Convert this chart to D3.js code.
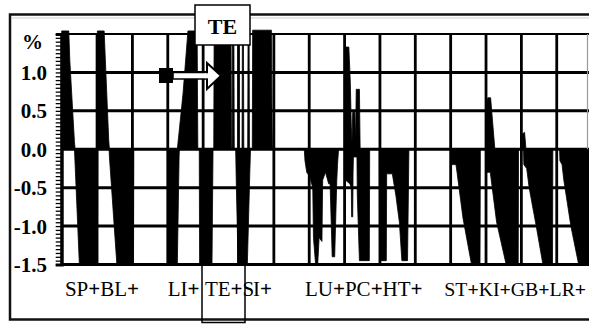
<!DOCTYPE html>
<html>
<head>
<meta charset="utf-8">
<script src="https://cdn.jsdelivr.net/npm/d3@7"></script>
<style>
  html, body { margin: 0; padding: 0; background: #fff; }
  svg { display: block; }
</style>
</head>
<body>
<svg id="chart" width="589" height="324"></svg>
<script>
// ---------------- data ----------------
// y-axis
const yTickValues = [1.0, 0.5, 0.0, -0.5, -1.0, -1.5];
const yTickLabels = ["1.0", "0.5", "0.0", "-0.5", "-1.0", "-1.5"];
const yGridValues = [1.5, 1.0, 0.5, 0.0, -0.5, -1.0, -1.5];
const unitLabel = "%";
// x-axis (recording position, 10 units per grid column)
const xGridValues = d3.range(0, 151, 10);
const groupLabels = ["SP+BL+", "LI+", "TE+S", "I+", "LU+PC+HT+", "ST+KI+GB+LR+"];
const groupStarts = [0.9, 30.0, 40.5, 54.1, 68.8, 108.2];
const highlight = "TE";

// positive envelope of the trace [position, %]
const upperTrace = [
  [0, 1.54], [2.0, 1.54], [2.3, 1.15], [3.6, 0.1], [3.8, 0],
  [10.0, 0], [10.1, 1.54], [12.0, 1.54], [13.3, 0.12], [13.5, 0],
  [32.7, 0], [34.3, 0.72], [35.7, 1.54], [38.3, 1.54], [38.5, 0],
  [43.0, 0], [43.1, 1.4], [47.9, 1.4], [48.0, 0],
  [48.2, 0], [48.3, 1.5], [48.7, 1.5], [48.8, 0],
  [51.0, 0], [51.1, 1.5], [51.4, 1.5], [51.5, 0],
  [52.6, 0], [52.7, 1.5], [53.0, 1.5], [53.1, 0],
  [53.9, 0], [54.0, 1.55], [59.3, 1.55], [59.5, 0.3], [59.6, 0],
  [80.0, 0], [80.1, 1.1], [80.4, 1.33], [81.2, 1.33], [81.6, 0.9], [81.9, 0.3], [82.1, 0.1],
  [82.3, 0.48], [82.9, 0.48], [83.1, 0.1], [83.3, 0.78], [84.2, 0.78], [84.4, 0],
  [120.1, 0], [120.2, 0.6], [120.5, 0.67], [121.3, 0.67], [121.7, 0.45], [122.0, 0.28], [122.5, 0],
  [130.2, 0], [130.3, 0.2], [130.9, 0.22], [131.3, 0],
  [150, 0]
];

// negative envelope of the trace [position, %]
const lowerTrace = [
  [0, 0], [3.6, 0], [3.7, -0.1], [5.0, -1.5], [10.1, -1.5], [10.2, 0],
  [13.4, 0], [13.5, -0.1], [15.6, -1.5], [20.3, -1.5], [20.4, 0],
  [29.9, 0], [30.0, -1.5], [32.7, -1.5], [33.2, -0.1], [33.3, 0],
  [38.9, 0], [39.0, -1.5], [42.5, -1.5], [42.8, 0],
  [49.2, 0], [49.4, -0.5], [49.9, -1.5], [52.5, -1.5], [53.2, -0.3], [53.4, 0],
  [68.6, 0], [68.8, -0.15], [69.3, -0.3], [70.1, -0.35], [71.0, -0.5], [71.2, -1.15], [71.8, -1.5],
  [72.4, -1.5], [72.8, -1.15], [73.6, -1.2], [73.8, -0.4], [74.6, -0.3], [75.5, -0.45], [75.9, -0.45],
  [76.5, -1.4], [77.2, -1.4], [77.8, -0.4], [78.0, -0.2], [78.3, 0],
  [80.1, 0], [80.2, -0.4], [81.5, -0.45], [81.9, -0.5], [82.0, -0.88], [82.3, -0.88], [82.4, -0.3],
  [82.5, -0.1], [83.5, -0.1], [83.6, -0.6], [84.2, -1.45], [87.0, -1.45], [87.1, 0],
  [89.8, 0], [89.9, -1.45], [91.8, -1.45], [91.9, -0.32], [93.5, -0.32], [94.5, -0.6], [95.5, -0.95],
  [96.2, -1.45], [97.8, -1.45], [98.2, 0],
  [110.3, 0], [110.4, -0.2], [111.5, -0.2], [111.8, -0.3], [113.5, -0.9], [115.9, -1.5], [118.3, -1.5], [118.4, 0],
  [120.2, 0], [120.3, -0.3], [121.2, -0.3], [123.0, -0.95], [125.7, -1.5], [129.1, -1.5], [129.2, 0],
  [130.6, 0], [130.7, -0.2], [131.5, -0.25], [132.2, -0.5], [134.2, -1.0], [136.1, -1.5], [138.8, -1.5], [138.9, 0],
  [140.8, 0], [140.9, -0.15], [141.5, -0.2], [142.0, -0.4], [144.0, -1.0], [146.2, -1.5], [150, -1.5]
];

// ---------------- drawing ----------------
const svg = d3.select("#chart");
const W = 589, H = 324;
svg.append("rect").attr("width", W).attr("height", H).attr("fill", "#fff");

const x = d3.scaleLinear().domain([0, 150]).range([61.7, 592.1]);
const y = d3.scaleLinear().domain([-1.5, 1.5]).range([264.5, 34]);

const serif = "'Liberation Serif', 'Times New Roman', serif";

// outer frame
svg.append("rect")
  .attr("x", 10).attr("y", 14.5).attr("width", 640).attr("height", 305)
  .attr("fill", "none").attr("stroke", "#111").attr("stroke-width", 2.5);
svg.append("line").attr("x1", 11).attr("x2", W).attr("y1", 18).attr("y2", 18)
  .attr("stroke", "#ccc").attr("stroke-width", 1);

// trace areas
const area = d3.area()
  .x(d => x(d[0]))
  .y0(y(0))
  .y1(d => y(d[1]));
const traces = svg.append("g");
[upperTrace, lowerTrace].forEach(tr => {
  traces.append("path").datum(tr)
    .attr("d", area)
    .attr("fill", "#000")
    .attr("stroke", "#000").attr("stroke-width", 0.8).attr("stroke-linejoin", "round");
});

// grid
const grid = svg.append("g");
grid.selectAll("line.h").data(yGridValues).join("line")
  .attr("class", "h")
  .attr("x1", x(0)).attr("x2", W + 10)
  .attr("y1", d => y(d)).attr("y2", d => y(d))
  .attr("stroke", "#000").attr("stroke-width", d => d === 1.5 ? 2.2 : 3);
grid.selectAll("line.v").data(xGridValues).join("line")
  .attr("class", "v")
  .attr("x1", d => x(d)).attr("x2", d => x(d))
  .attr("y1", y(1.5)).attr("y2", y(-1.5))
  .attr("stroke", "#000").attr("stroke-width", 2.8);
svg.append("line").attr("x1", 587.5).attr("x2", 587.5).attr("y1", y(1.5)).attr("y2", y(0))
  .attr("stroke", "#999").attr("stroke-width", 1.2);

// y axis with minor ticks
const yAxis = d3.axisLeft(y)
  .tickValues(d3.range(-30, 31).map(i => i * 0.05))
  .tickSize(6)
  .tickFormat("");
const ag = svg.append("g").attr("transform", `translate(${x(0)},0)`).call(yAxis);
ag.select(".domain").attr("stroke", "#000").attr("stroke-width", 3);
ag.selectAll(".tick line").attr("stroke", "#000").attr("stroke-width", 1.3);

// y labels
svg.append("g").selectAll("text").data(yTickValues).join("text")
  .attr("x", 47).attr("y", d => y(d) + 7.5)
  .attr("text-anchor", "end")
  .attr("font-family", serif).attr("font-size", 21).attr("font-weight", "bold")
  .attr("fill", "#000")
  .text((d, i) => yTickLabels[i]);
svg.append("text").attr("x", 22).attr("y", 49)
  .attr("font-family", serif).attr("font-size", 21).attr("font-weight", "bold")
  .attr("fill", "#000").text(unitLabel);

// group labels (bold plus signs)
const lg = svg.append("g");
groupLabels.forEach((lab, i) => {
  const t = lg.append("text")
    .attr("x", x(groupStarts[i])).attr("y", 296)
    .attr("font-family", serif)
    .attr("font-size", i === groupLabels.length - 1 ? 19.8 : 21)
    .attr("fill", "#000");
  lab.split(/(\+)/).filter(s => s.length).forEach(part => {
    t.append("tspan").attr("font-weight", part === "+" ? "bold" : "normal").text(part);
  });
});

// highlight rectangle at the bottom
svg.append("rect")
  .attr("x", 202).attr("y", y(-1.5)).attr("width", 43).attr("height", 58)
  .attr("fill", "none").attr("stroke", "#000").attr("stroke-width", 1.5);

// arrow
const ar = svg.append("g");
ar.append("rect").attr("x", 159).attr("y", 68).attr("width", 14).attr("height", 15).attr("fill", "#000");
ar.append("rect").attr("x", 173).attr("y", 72.5).attr("width", 35).attr("height", 6.5)
  .attr("fill", "#fff").attr("stroke", "#000").attr("stroke-width", 1.5);
ar.append("polygon").attr("points", "207,63 221,75.8 207,89")
  .attr("fill", "#fff").attr("stroke", "#000").attr("stroke-width", 2);
ar.append("rect").attr("x", 205).attr("y", 73.3).attr("width", 4).attr("height", 5).attr("fill", "#fff");

// TE box at top
svg.append("rect").attr("x", 195).attr("y", 5).attr("width", 55).attr("height", 40)
  .attr("fill", "#fff").attr("stroke", "#000").attr("stroke-width", 1.5);
svg.append("text").attr("x", 222.5).attr("y", 34)
  .attr("text-anchor", "middle")
  .attr("font-family", serif).attr("font-size", 22).attr("font-weight", "bold")
  .attr("fill", "#000").text(highlight);
</script>
</body>
</html>
